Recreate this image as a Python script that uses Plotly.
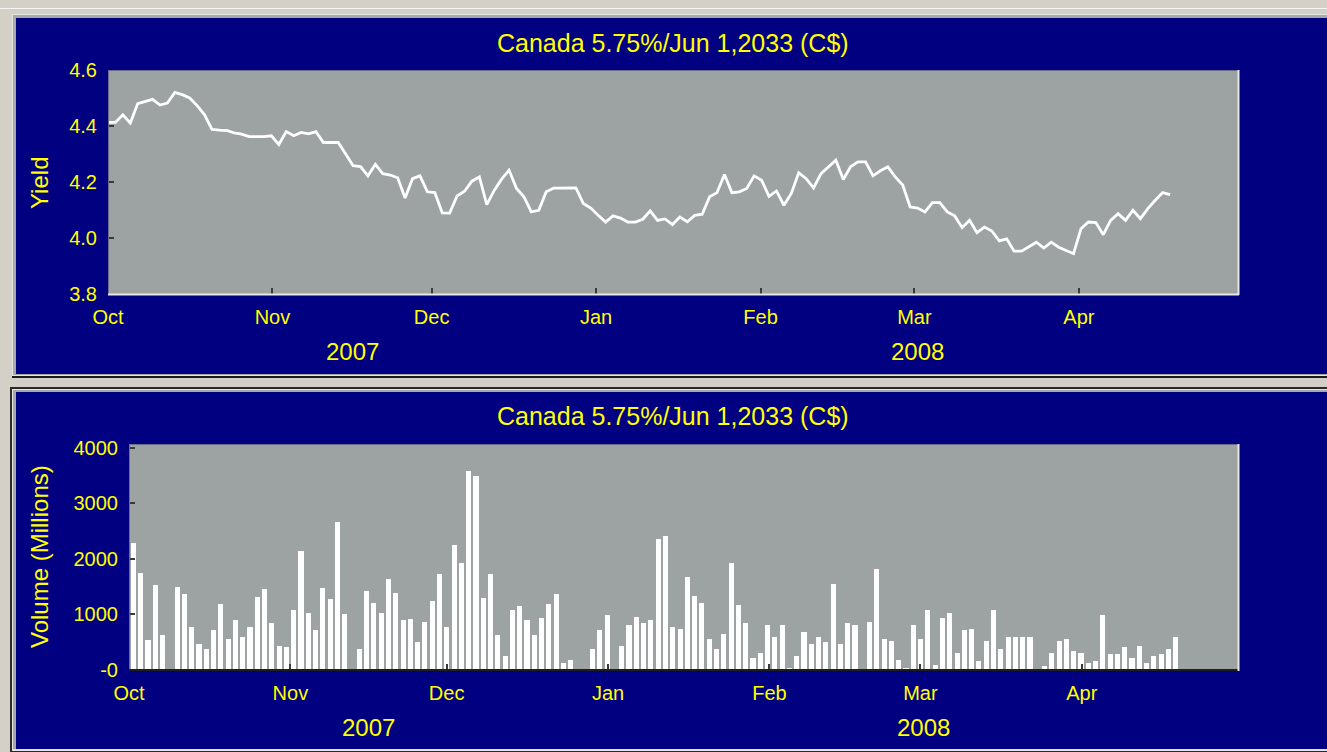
import numpy as np
import pandas as pd
import plotly.graph_objects as go

# ---------------- data ----------------
title_text = "Canada 5.75%/Jun 1,2033 (C$)"
start_date = "2007-10-01"
end_date = "2008-04-17"
dates = pd.bdate_range(start_date, end_date)          # 144 trading days (weekdays)

yields = [4.413, 4.413, 4.44, 4.41, 4.48, 4.487, 4.495, 4.475, 4.482, 4.52,
          4.512, 4.50, 4.473, 4.44, 4.388, 4.385, 4.384, 4.375, 4.371, 4.362,
          4.362, 4.362, 4.365, 4.334, 4.38, 4.365, 4.377, 4.372, 4.38, 4.341,
          4.341, 4.341, 4.30, 4.258, 4.255, 4.222, 4.263, 4.23, 4.225, 4.215,
          4.143, 4.212, 4.222, 4.165, 4.162, 4.09, 4.089, 4.15, 4.167, 4.203,
          4.218, 4.119, 4.17, 4.21, 4.242, 4.177, 4.147, 4.093, 4.099, 4.165,
          4.178, 4.179, 4.179, 4.179, 4.123, 4.107, 4.081, 4.057, 4.079, 4.071,
          4.057, 4.057, 4.067, 4.097, 4.063, 4.068, 4.048, 4.075, 4.058, 4.081,
          4.085, 4.147, 4.162, 4.227, 4.162, 4.165, 4.177, 4.222, 4.206, 4.149,
          4.168, 4.117, 4.159, 4.233, 4.212, 4.179, 4.23, 4.255, 4.278, 4.209,
          4.255, 4.272, 4.272, 4.222, 4.24, 4.254, 4.218, 4.189, 4.111, 4.107,
          4.093, 4.126, 4.126, 4.093, 4.079, 4.037, 4.063, 4.019, 4.039, 4.025,
          3.99, 3.997, 3.953, 3.953, 3.97, 3.985, 3.964, 3.985, 3.967, 3.955,
          3.944, 4.033, 4.057, 4.055, 4.012, 4.063, 4.087, 4.063, 4.099, 4.069,
          4.105, 4.135, 4.162, 4.155]

volumes = [2290, 1740, 535, 1525, 625, 0, 1490, 1365, 775, 470,
           380, 715, 1185, 560, 895, 590, 775, 1310, 1460, 840,
           440, 410, 1085, 2140, 1020, 715, 1485, 1275, 2660, 1000,
           0, 370, 1425, 1205, 1020, 1645, 1395, 895, 925, 500,
           870, 1235, 1735, 775, 2260, 1920, 3590, 3500, 1305, 1735,
           625, 250, 1085, 1145, 900, 625, 930, 1185, 1365, 125,
           185, 0, 0, 370, 715, 995, 0, 440, 805, 960,
           840, 900, 2355, 2415, 780, 745, 1675, 1335, 1205, 565,
           370, 655, 1920, 1175, 840, 220, 310, 805, 590, 805,
           25, 250, 685, 470, 590, 500, 1550, 470, 840, 805,
           0, 870, 1825, 560, 530, 185, 35, 805, 560, 1085,
           95, 930, 1020, 310, 715, 745, 155, 530, 1085, 370,
           590, 590, 590, 590, 0, 65, 310, 530, 560, 340,
           310, 125, 155, 995, 280, 280, 410, 220, 440, 125,
           250, 280, 370, 590]

month_labels = ["Oct", "Nov", "Dec", "Jan", "Feb", "Mar", "Apr"]
month_starts = ["2007-10-01", "2007-11-01", "2007-12-01", "2008-01-01",
                "2008-02-01", "2008-03-01", "2008-04-01"]
year_labels = ["2007", "2008"]
year_starts = ["2007-10-01", "2008-01-01"]
axis_end_date = "2008-05-01"

yield_ticks = [3.8, 4.0, 4.2, 4.4, 4.6]
yield_ticktext = ["3.8", "4.0", "4.2", "4.4", "4.6"]
vol_ticks = [0, 1000, 2000, 3000, 4000]
vol_ticktext = ["-0", "1000", "2000", "3000", "4000"]

# ---------------- scales ----------------
t0 = pd.Timestamp(start_date)
idx = np.arange(len(dates))                                   # trading-day index
def cal_pos(d):                                               # calendar date -> trading-day units
    return (pd.Timestamp(d) - t0).days * 5 / 7
month_pos = [cal_pos(d) for d in month_starts]
x_max = cal_pos(axis_end_date)
year_bounds = [cal_pos(d) for d in year_starts] + [x_max]
year_pos = [(year_bounds[k] + year_bounds[k + 1]) / 2 for k in range(len(year_labels))]

# ---------------- style ----------------
W, H = 1327, 752
NAVY = "#000080"
PLOTBG = "#9da2a2"
YEL = "#ffff00"
FONT = "Liberation Sans, Arial, sans-serif"
def px(x): return x / W
def py(y): return 1 - y / H

fig = go.Figure()
fig.add_trace(go.Scatter(x=idx, y=yields, mode="lines",
                         line=dict(color="white", width=2.8),
                         xaxis="x", yaxis="y", showlegend=False))
fig.add_trace(go.Bar(x=idx, y=volumes, width=0.7, offset=0.25,
                     marker=dict(color="white", line=dict(width=0)),
                     xaxis="x2", yaxis="y2", showlegend=False))

tickfont = dict(family=FONT, size=20, color=YEL)
common_x = dict(range=[0, x_max], tickmode="array", tickvals=month_pos, ticktext=month_labels,
                ticks="inside", ticklen=6, tickwidth=2, tickcolor="#3a3a3a",
                showgrid=False, zeroline=False, showline=False, tickfont=tickfont,
                ticklabelstandoff=9, fixedrange=True, automargin=False)
common_y = dict(ticks="inside", ticklen=6, tickwidth=2, tickcolor="#3a3a3a",
                showgrid=False, zeroline=False, showline=False, tickfont=tickfont,
                ticklabelstandoff=10, tickmode="array", fixedrange=True, automargin=False)

fig.update_layout(
    template="none",
    width=W, height=H, autosize=False, margin=dict(l=0, r=0, t=0, b=0, pad=0, autoexpand=False),
    paper_bgcolor="#d4d0c8", plot_bgcolor="rgba(0,0,0,0)",
    bargap=0, showlegend=False,
    xaxis=dict(domain=[px(108), px(1238)], anchor="y", **common_x),
    yaxis=dict(domain=[py(294), py(70)], anchor="x", range=[3.8, 4.6],
               tickvals=yield_ticks, ticktext=yield_ticktext, **common_y),
    xaxis2=dict(domain=[px(129), px(1238)], anchor="y2", **common_x),
    yaxis2=dict(domain=[py(670), py(444)], anchor="x2", range=[0, 4070],
                tickvals=vol_ticks, ticktext=vol_ticktext, **common_y),
)

shapes = []
def rect(x0, y0, x1, y1, color, layer="below"):
    shapes.append(dict(type="rect", xref="paper", yref="paper",
                       x0=px(x0), x1=px(x1), y0=py(y1), y1=py(y0),
                       fillcolor=color, line=dict(width=0), layer=layer))
def hline(x0, x1, y, color, w=1, layer="above"):
    shapes.append(dict(type="line", xref="paper", yref="paper",
                       x0=px(x0), x1=px(x1), y0=py(y), y1=py(y),
                       line=dict(color=color, width=w), layer=layer))
def vline(x, y0, y1, color, w=1, layer="above"):
    shapes.append(dict(type="line", xref="paper", yref="paper",
                       x0=px(x), x1=px(x), y0=py(y0), y1=py(y1),
                       line=dict(color=color, width=w), layer=layer))

# window background details
hline(0, W, 8.5, "#f4f4f4", 1, "below")
# top panel
rect(12, 14, W + 5, 378, "#1a1a1a")
rect(12, 14, W + 5, 376, "#e4e4e4")
rect(13, 15, W + 5, 375, "#a8a8a8")
rect(16, 18, W + 5, 374, NAVY)
# bottom panel
rect(10, 387, W + 5, H + 5, "#2a2a2a")
rect(12, 389, W + 5, 751, "#e4e4e4")
rect(13, 390, W + 5, 749, "#a8a8a8")
rect(16, 392, W + 5, 749, NAVY)
# plot areas
rect(108, 70, 1238, 294, PLOTBG)
rect(129, 444, 1238, 670, PLOTBG)

# plot-area edges (top chart)
hline(108, 1238, 70.5, "#6c6c8c", 1)
vline(108.5, 70, 294, "#6c6c8c", 1)
hline(108, 1239, 294.5, "#e8e8e8", 2)
vline(1238.5, 70, 295, "#e8e8e8", 2)
# plot-area edges (bottom chart)
hline(129, 1238, 444.5, "#6c6c8c", 1)
vline(129.5, 444, 670, "#6c6c8c", 1)
hline(129, 1238, 670, "#1e1e1e", 2)
vline(1238.5, 444, 671, "#e8e8e8", 2)

fig.update_layout(shapes=shapes)

ann = []
for yy in (43, 416):
    ann.append(dict(text=title_text, xref="paper", yref="paper", x=px(673), y=py(yy),
                    showarrow=False, xanchor="center", yanchor="middle",
                    font=dict(family=FONT, size=25, color=YEL)))
ann.append(dict(text="Yield", xref="paper", yref="paper", x=px(39), y=py(183),
                textangle=-90, showarrow=False, xanchor="center", yanchor="middle",
                font=dict(family=FONT, size=24, color=YEL)))
ann.append(dict(text="Volume (Millions)", xref="paper", yref="paper", x=px(39), y=py(557),
                textangle=-90, showarrow=False, xanchor="center", yanchor="middle",
                font=dict(family=FONT, size=24, color=YEL)))
for lab, pos in zip(year_labels, year_pos):
    ann.append(dict(text=lab, xref="x", yref="paper", x=pos, y=py(351),
                    showarrow=False, xanchor="center", yanchor="middle",
                    font=dict(family=FONT, size=24, color=YEL)))
    ann.append(dict(text=lab, xref="x2", yref="paper", x=pos, y=py(727),
                    showarrow=False, xanchor="center", yanchor="middle",
                    font=dict(family=FONT, size=24, color=YEL)))
fig.update_layout(annotations=ann)

fig.write_html("out.html", config={"displayModeBar": False, "responsive": False},
               post_script="document.body.style.margin='0';document.body.style.background='#d4d0c8';")
